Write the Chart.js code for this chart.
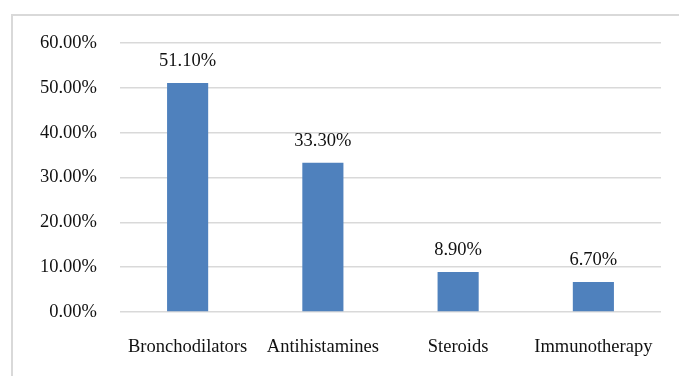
<!DOCTYPE html>
<html>
<head>
<meta charset="utf-8">
<script src="https://cdn.jsdelivr.net/npm/chart.js@4/dist/chart.umd.min.js"></script>
<style>
  html, body { margin: 0; padding: 0; background: #fff; }
  #wrap { position: relative; width: 679px; height: 376px; overflow: hidden; }
  #frame {
    position: absolute; left: 11px; top: 14px; width: 700px; height: 400px;
    border-top: 2px solid #D9D9D9; border-left: 2px solid #D9D9D9;
  }
  canvas { position: absolute; left: 0; top: 0; }
</style>
</head>
<body>
<div id="wrap">
  <div id="frame"></div>
  <canvas id="chart" width="679" height="376"></canvas>
</div>
<script>
'use strict';

const categories = ['Bronchodilators', 'Antihistamines', 'Steroids', 'Immunotherapy'];
const shares = [51.10, 33.30, 8.90, 6.70];
const BLUE = '#4F81BD';
const GRID = '#D9D9D9';
const FONT = { family: '"Liberation Serif", "Times New Roman", serif', size: 18.5 };

// Percent labels above each bar
const valueLabels = {
  id: 'valueLabels',
  afterDatasetsDraw(chart) {
    const ctx = chart.ctx;
    const meta = chart.getDatasetMeta(0);
    ctx.save();
    ctx.font = FONT.size + 'px ' + FONT.family;
    ctx.fillStyle = '#111';
    ctx.textAlign = 'center';
    ctx.textBaseline = 'middle';
    meta.data.forEach((bar, i) => {
      ctx.fillText(shares[i].toFixed(2) + '%', bar.x, bar.y - 22);
    });
    ctx.restore();
  }
};

new Chart(document.getElementById('chart'), {
  type: 'bar',
  data: {
    labels: categories,
    datasets: [{
      data: shares,
      backgroundColor: BLUE,
      categoryPercentage: 1,
      barPercentage: 0.304,
    }],
  },
  options: {
    responsive: false,
    animation: false,
    layout: { padding: { top: 43, right: 18, bottom: 0, left: 0 } },
    plugins: { legend: { display: false }, tooltip: { enabled: false } },
    scales: {
      x: {
        grid: { display: false },
        border: { display: false },
        ticks: { color: '#111', font: FONT, padding: 16, maxRotation: 0 },
        afterFit(scale) { scale.height = 64; },
      },
      y: {
        min: 0,
        max: 60,
        grid: { color: GRID, lineWidth: 1.5, drawTicks: false },
        border: { display: false },
        ticks: {
          stepSize: 10,
          color: '#111',
          font: FONT,
          padding: 23,
          callback: v => v.toFixed(2) + '%',
        },
        afterFit(scale) { scale.width = 120; },
      },
    },
  },
  plugins: [valueLabels],
});
</script>
</body>
</html>
